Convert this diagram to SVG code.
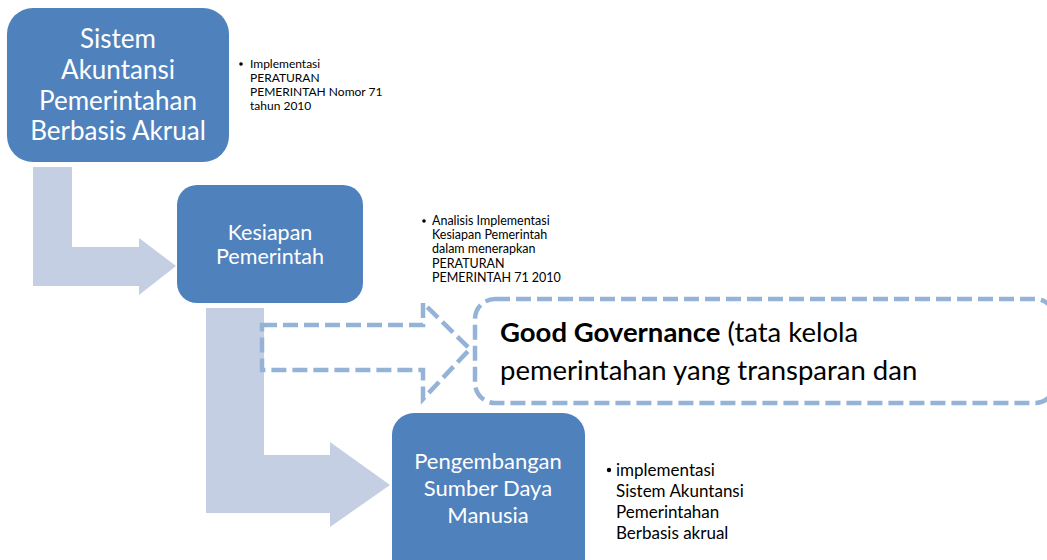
<svg xmlns="http://www.w3.org/2000/svg" width="1047" height="560" viewBox="0 0 1047 560">
<style>
.box{fill:#4F81BD;}
.arrow{fill:#C4CFE3;}
.dash{fill:#FFFFFF;stroke:#95B3D7;stroke-width:4.5;stroke-dasharray:15 6;}
.bt{font-family:Lato,"Open Sans",sans-serif;fill:#FFFFFF;text-anchor:middle;}
.note{font-family:Lato,"Open Sans",sans-serif;fill:#000000;}
</style>
<rect width="1047" height="560" fill="#FFFFFF"/>
<g id="connectors">
<path class="arrow" d="M33,167 L72,167 L72,247 L139,247 L139,238 L176,266 L139,295 L139,286 L33,286 Z"/>
<path class="arrow" d="M206,308 L264,308 L264,455 L330,455 L330,442 L390,485 L330,527 L330,513 L206,513 Z"/>
<path class="dash" style="fill:none" d="M262,325 L423,325 L423,303 L470,349 L423,399 L423,370 L262,370 Z"/>
</g>
<g id="node-sistem">
<rect class="box" x="7" y="8" width="222" height="154" rx="26"/>
<text class="bt" font-size="26"><tspan x="118" y="48">Sistem</tspan><tspan x="118" y="79">Akuntansi</tspan><tspan x="118" y="110">Pemerintahan</tspan><tspan x="118" y="140">Berbasis Akrual</tspan></text>
</g>
<g id="note-sistem">
<circle cx="241" cy="64" r="1.8" fill="#000"/>
<text class="note" font-size="12"><tspan x="250" y="68">Implementasi</tspan><tspan x="250" y="82">PERATURAN</tspan><tspan x="250" y="96">PEMERINTAH Nomor 71</tspan><tspan x="250" y="110">tahun 2010</tspan></text>
</g>
<g id="node-kesiapan">
<rect class="box" x="177" y="185" width="186" height="118" rx="20"/>
<text class="bt" font-size="21.5"><tspan x="270" y="240">Kesiapan</tspan><tspan x="270" y="264">Pemerintah</tspan></text>
</g>
<g id="note-kesiapan">
<circle cx="424" cy="221" r="1.8" fill="#000"/>
<text class="note" font-size="12.5"><tspan x="432" y="225">Analisis Implementasi</tspan><tspan x="432" y="239">Kesiapan Pemerintah</tspan><tspan x="432" y="253">dalam menerapkan</tspan><tspan x="432" y="268">PERATURAN</tspan><tspan x="432" y="282">PEMERINTAH 71 2010</tspan></text>
</g>
<g id="node-goodgov">
<rect class="dash" x="475" y="299" width="580" height="104" rx="20"/>
<text class="note" font-size="27.5"><tspan x="500" y="342"><tspan font-weight="bold">Good Governance</tspan> (tata kelola</tspan><tspan x="500" y="380">pemerintahan yang transparan dan</tspan></text>
</g>
<g id="node-sdm">
<rect class="box" x="392" y="413" width="193" height="170" rx="22"/>
<text class="bt" font-size="22"><tspan x="488" y="469">Pengembangan</tspan><tspan x="488" y="496">Sumber Daya</tspan><tspan x="488" y="523">Manusia</tspan></text>
</g>
<g id="note-sdm">
<circle cx="609" cy="470" r="2.2" fill="#000"/>
<text class="note" font-size="17"><tspan x="616" y="476">implementasi</tspan><tspan x="616" y="497">Sistem Akuntansi</tspan><tspan x="616" y="518">Pemerintahan</tspan><tspan x="616" y="539">Berbasis akrual</tspan></text>
</g>
</svg>
